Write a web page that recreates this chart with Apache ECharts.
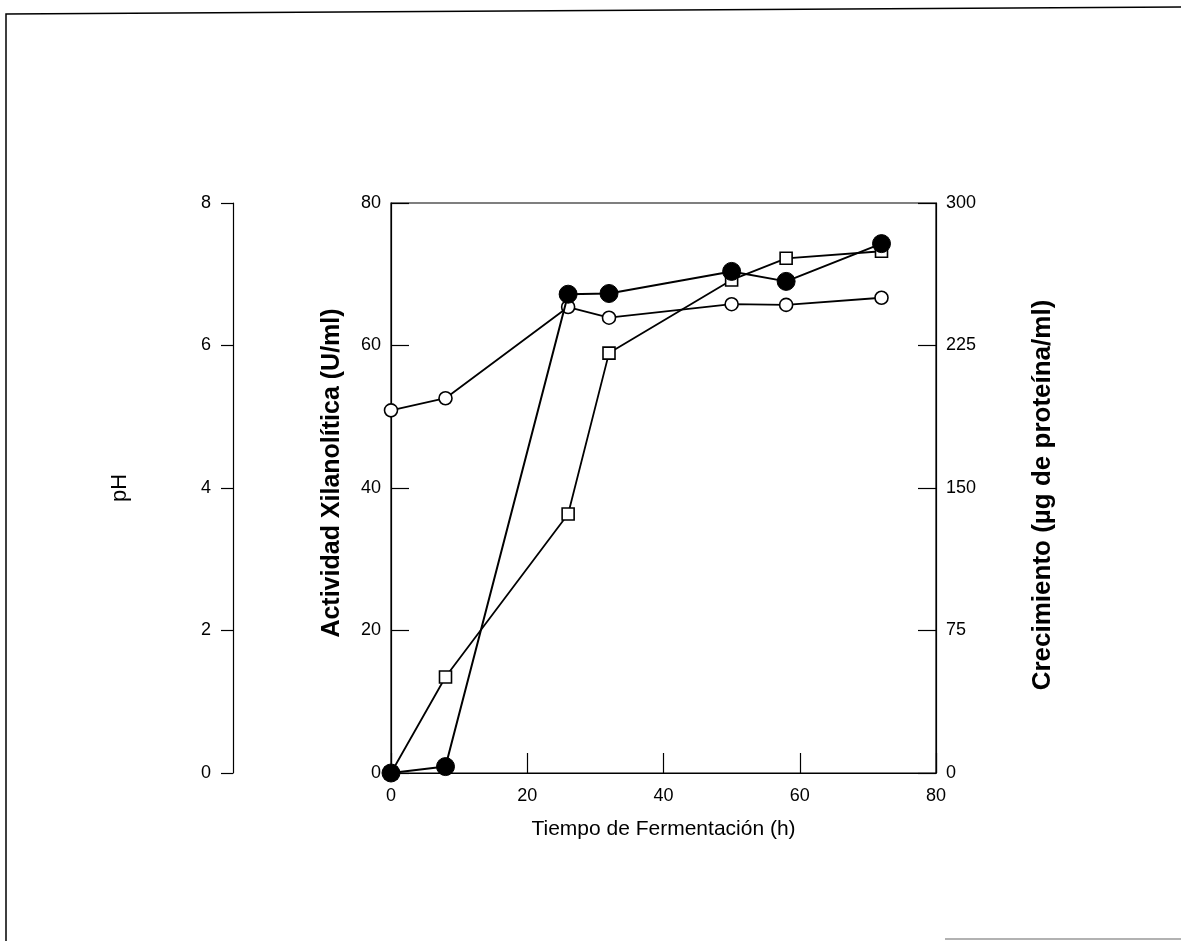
<!DOCTYPE html>
<html>
<head>
<meta charset="utf-8">
<script src="https://cdn.jsdelivr.net/npm/echarts@6/dist/echarts.min.js"></script>
<style>
html,body{margin:0;padding:0;background:#fff;}
#c{width:1181px;height:941px;}
</style>
</head>
<body>
<div id="c"></div>
<script>
const tiempo = [0, 8, 26, 32, 50, 58, 72];
const pH = [5.09, 5.26, 6.54, 6.39, 6.58, 6.57, 6.67];
const actividad = [0, 0.9, 67.2, 67.3, 70.4, 69.0, 74.3];
const crecimiento = [0, 50.5, 136.3, 221, 259.5, 270.9, 274.6];

const font = '"Liberation Sans", Arial, sans-serif';

function pairs(xs, ys){ return xs.map((x,i)=>[x, ys[i]]); }

const chart = echarts.init(document.getElementById('c'));
const lab = {color:'#000', fontFamily: font, fontSize: 18};
chart.setOption({
  animation:false,
  backgroundColor:'#fff',
  grid:{left:391, top:203, width:545, height:570, show:true, borderColor:'#000', borderWidth:1.2, backgroundColor:'transparent'},
  xAxis:{
    type:'value', min:0, max:80, interval:20,
    name:'Tiempo de Fermentación (h)', nameLocation:'middle', nameGap:46,
    nameTextStyle:{color:'#000', fontFamily:font, fontSize:21},
    axisLine:{lineStyle:{color:'#000', width:1.2}},
    axisTick:{inside:true, length:20, lineStyle:{color:'#000', width:1.2}},
    axisLabel:Object.assign({margin:14}, lab),
    splitLine:{show:false}
  },
  yAxis:[
    {
      type:'value', min:0, max:80, interval:20, position:'left',
      name:'Actividad Xilanolítica (U/ml)', nameLocation:'middle', nameGap:46,
      nameTextStyle:{color:'#000', fontFamily:font, fontSize:25, fontWeight:'bold', padding:[0,0,0,30]},
      axisLine:{show:true, lineStyle:{color:'#000', width:1.2}},
      axisTick:{show:true, inside:true, length:18, lineStyle:{color:'#000', width:1.2}},
      axisLabel:Object.assign({margin:10}, lab),
      splitLine:{show:false}
    },
    {
      type:'value', min:0, max:300, interval:75, position:'right',
      name:'Crecimiento (µg de proteína/ml)', nameLocation:'middle', nameGap:94, nameRotate:90,
      nameTextStyle:{color:'#000', fontFamily:font, fontSize:26, fontWeight:'bold', padding:[0,14,0,0]},
      axisLine:{show:true, lineStyle:{color:'#000', width:1.2}},
      axisTick:{show:true, inside:true, length:18, lineStyle:{color:'#000', width:1.2}},
      axisLabel:Object.assign({margin:10}, lab),
      splitLine:{show:false}
    },
    {
      type:'value', min:0, max:8, interval:2, position:'left', offset:158,
      name:'pH', nameLocation:'middle', nameGap:102,
      nameTextStyle:{color:'#000', fontFamily:font, fontSize:22},
      axisLine:{show:true, lineStyle:{color:'#000', width:1.2}},
      axisTick:{show:true, inside:false, length:12, lineStyle:{color:'#000', width:1.2}},
      axisLabel:Object.assign({margin:22}, lab),
      splitLine:{show:false}
    }
  ],
  series:[
    {
      type:'line', yAxisIndex:2, data:pairs(tiempo, pH),
      symbol:'circle', symbolSize:13,
      lineStyle:{color:'#000', width:1.8},
      itemStyle:{color:'#fff', borderColor:'#000', borderWidth:1.6}, z:2
    },
    {
      type:'line', yAxisIndex:1, data:pairs(tiempo, crecimiento),
      symbol:'rect', symbolSize:12,
      lineStyle:{color:'#000', width:1.8},
      itemStyle:{color:'#fff', borderColor:'#000', borderWidth:1.6}, z:3
    },
    {
      type:'line', yAxisIndex:0, data:pairs(tiempo, actividad),
      symbol:'circle', symbolSize:18,
      lineStyle:{color:'#000', width:2},
      itemStyle:{color:'#000', borderColor:'#000'}, z:4
    }
  ],
  graphic:[
    {type:'polyline', shape:{points:[[6,941],[6,14],[1181,7]]}, style:{stroke:'#000', lineWidth:1.5, fill:null}},
    {type:'line', shape:{x1:945,y1:939,x2:1181,y2:939}, style:{stroke:'#999', lineWidth:1.5}}
  ]
});
</script>
</body>
</html>
